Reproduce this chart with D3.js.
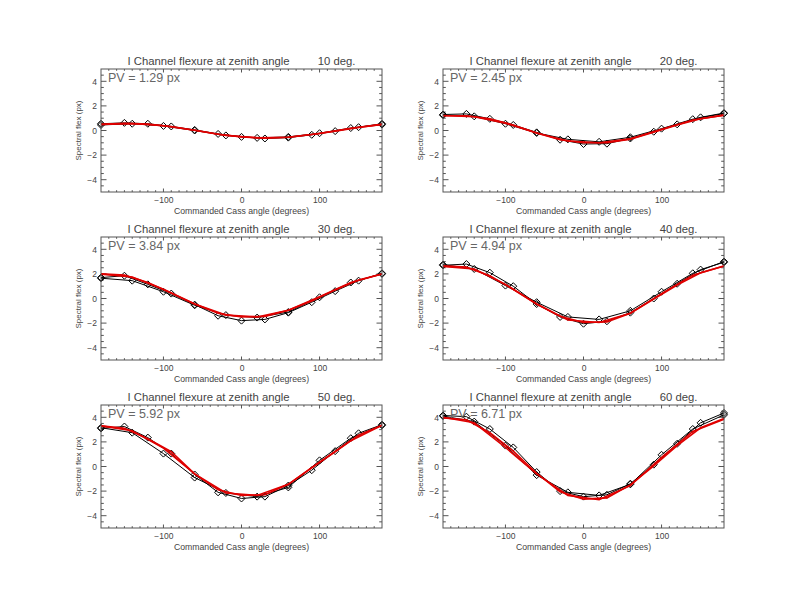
<!DOCTYPE html>
<html>
<head>
<meta charset="utf-8">
<script src="https://cdn.jsdelivr.net/npm/d3@7"></script>
<style>
  body { margin: 0; background: #fff; }
  text { font-family: "Liberation Sans", Arial, sans-serif; }
</style>
</head>
<body>
<div id="chart"></div>
<script>
// six panels of I channel flexure vs Cass angle, one per zenith angle

// cass angles for the two runs
const anglesA = [-180, -150, -120, -90, -60, -30, 0, 30, 60, 90, 120, 150, 180];
const anglesB = [-180, -140, -100, -60, -20, 20, 60, 100, 140, 180];

const zenithAngles = [10, 20, 30, 40, 50, 60];
const pvLabels = ["1.29", "2.45", "3.84", "4.94", "5.92", "6.71"];

const xTicks = [-100, 0, 100];
const yTicks = [-4, -2, 0, 2, 4];

// measured flex (px), run A / run B, per zenith angle
const runA10 = [0.55, 0.62, 0.55, 0.33, 0.05, -0.28, -0.52, -0.65, -0.58, -0.35, -0.05, 0.27, 0.55];
const runB10 = [0.45, 0.55, 0.37, 0.0, -0.4, -0.6, -0.52, -0.22, 0.2, 0.48];
const runA20 = [1.3, 1.35, 0.95, 0.45, -0.15, -0.75, -1.1, -1.07, -0.65, -0.1, 0.5, 1.07, 1.42];
const runB20 = [1.25, 1.15, 0.55, -0.2, -0.72, -0.92, -0.55, 0.15, 0.92, 1.38];
const runA30 = [1.7, 1.85, 1.15, 0.4, -0.5, -1.4, -1.8, -1.7, -1.15, -0.3, 0.6, 1.45, 2.05];
const runB30 = [1.65, 1.45, 0.55, -0.55, -1.35, -1.55, -1.1, 0.1, 1.3, 2.0];
const runA40 = [2.7, 2.8, 2.1, 1.0, -0.45, -1.5, -2.05, -1.85, -1.15, 0.0, 1.2, 2.35, 2.95];
const runB40 = [2.75, 2.4, 1.05, -0.3, -1.5, -1.7, -1.0, 0.55, 2.05, 3.0];
const runA50 = [3.1, 3.25, 2.35, 1.05, -0.65, -2.1, -2.6, -2.45, -1.55, -0.3, 1.25, 2.7, 3.4];
const runB50 = [3.15, 2.75, 1.05, -0.9, -2.15, -2.45, -1.7, 0.5, 2.3, 3.35];
const runA60 = [4.15, 4.05, 3.05, 1.55, -0.45, -2.0, -2.45, -2.3, -1.4, 0.15, 1.85, 3.55, 4.35];
const runB60 = [4.1, 3.65, 1.7, -0.7, -2.1, -2.35, -1.45, 0.95, 3.05, 4.2];

// fitted curves (red), sampled at the same angles
const fitA10 = [0.5, 0.58, 0.52, 0.33, 0.02, -0.3, -0.52, -0.62, -0.55, -0.33, -0.05, 0.25, 0.5];
const fitB10 = [0.5, 0.57, 0.38, 0.02, -0.4, -0.6, -0.55, -0.25, 0.18, 0.5];
const fitA20 = [1.2, 1.2, 0.95, 0.45, -0.2, -0.75, -1.0, -1.0, -0.7, -0.15, 0.45, 0.95, 1.25];
const fitB20 = [1.22, 1.12, 0.6, -0.2, -0.85, -1.0, -0.68, 0.1, 0.85, 1.25];
const fitA30 = [2.0, 1.9, 1.3, 0.45, -0.45, -1.2, -1.5, -1.45, -0.95, -0.2, 0.7, 1.5, 2.0];
const fitB30 = [1.98, 1.75, 0.75, -0.45, -1.35, -1.5, -0.95, 0.15, 1.3, 2.0];
const fitA40 = [2.65, 2.55, 1.85, 0.75, -0.45, -1.45, -1.95, -1.9, -1.2, -0.05, 1.1, 2.1, 2.65];
const fitB40 = [2.6, 2.4, 1.15, -0.45, -1.75, -1.95, -1.2, 0.4, 1.9, 2.65];
const fitA50 = [3.3, 3.1, 2.25, 1.2, -0.6, -1.9, -2.35, -2.3, -1.45, -0.1, 1.2, 2.55, 3.35];
const fitB50 = [3.3, 2.9, 1.5, -0.6, -2.15, -2.35, -1.45, 0.35, 2.1, 3.35];
const fitA60 = [3.95, 3.8, 2.75, 1.25, -0.55, -2.05, -2.65, -2.55, -1.5, 0.05, 1.7, 3.15, 3.9];
const fitB60 = [4.0, 3.55, 1.55, -0.6, -2.35, -2.7, -1.55, 0.75, 2.85, 3.85];

const panels = [
  { runA: runA10, runB: runB10, fitA: fitA10, fitB: fitB10 },
  { runA: runA20, runB: runB20, fitA: fitA20, fitB: fitB20 },
  { runA: runA30, runB: runB30, fitA: fitA30, fitB: fitB30 },
  { runA: runA40, runB: runB40, fitA: fitA40, fitB: fitB40 },
  { runA: runA50, runB: runB50, fitA: fitA50, fitB: fitB50 },
  { runA: runA60, runB: runB60, fitA: fitA60, fitB: fitB60 }
].map((p, i) => ({ ...p, zenith: zenithAngles[i], pv: pvLabels[i] }));

const width = 792, height = 612;
const colLeft = [101, 443];
const rowTop = [69, 237, 405];
const plotW = 281, plotH = 123;
const axisColor = "#555";
const textColor = "#444";

const svg = d3.select("#chart").append("svg")
  .attr("width", width)
  .attr("height", height);

panels.forEach((p, i) => {
  const g = svg.append("g")
    .attr("transform", `translate(${colLeft[i % 2]},${rowTop[Math.floor(i / 2)]})`);
  drawPanel(g, p);
});

function tickText(d) {
  return d3.format("d")(d).replace("-", "\u2212");
}

function drawPanel(g, p) {
  const x = d3.scaleLinear().domain([-180, 180]).range([0, plotW]);
  const y = d3.scaleLinear().domain([-5, 5]).range([plotH, 0]);

  // minor ticks every 10 deg / 0.5 px, IDL style, on all four sides
  const xMinor = d3.range(-170, 180, 10).filter(v => !xTicks.includes(v));
  const yMinor = d3.range(-4.5, 5, 0.5).filter(v => !yTicks.includes(v));

  g.append("g").attr("transform", `translate(0,${plotH})`)
    .call(d3.axisBottom(x).tickValues(xTicks).tickSize(0).tickPadding(5).tickFormat(tickText))
    .call(a => a.select(".domain").remove())
    .selectAll("text")
    .attr("font-size", 8.5)
    .attr("fill", textColor)
    .style("font-family", "Liberation Sans");

  g.append("g")
    .call(d3.axisLeft(y).tickValues(yTicks).tickSize(0).tickPadding(4).tickFormat(tickText))
    .call(a => a.select(".domain").remove())
    .selectAll("text")
    .attr("font-size", 8.5)
    .attr("fill", textColor)
    .style("font-family", "Liberation Sans");

  const ticks = g.append("g").attr("stroke", axisColor).attr("stroke-width", 1);
  const xt = xTicks.map(v => ({ v, len: 3.5 })).concat(xMinor.map(v => ({ v, len: 1.8 })));
  const yt = yTicks.map(v => ({ v, len: 5.5 })).concat(yMinor.map(v => ({ v, len: 2.8 })));

  ticks.selectAll(".xb").data(xt).enter().append("line")
    .attr("x1", d => x(d.v)).attr("x2", d => x(d.v))
    .attr("y1", plotH).attr("y2", d => plotH - d.len);
  ticks.selectAll(".xt").data(xt).enter().append("line")
    .attr("x1", d => x(d.v)).attr("x2", d => x(d.v))
    .attr("y1", 0).attr("y2", d => d.len);
  ticks.selectAll(".yl").data(yt).enter().append("line")
    .attr("y1", d => y(d.v)).attr("y2", d => y(d.v))
    .attr("x1", 0).attr("x2", d => d.len);
  ticks.selectAll(".yr").data(yt).enter().append("line")
    .attr("y1", d => y(d.v)).attr("y2", d => y(d.v))
    .attr("x1", plotW).attr("x2", d => plotW - d.len);

  const line = d3.line().x(d => x(d[0])).y(d => y(d[1]));
  const ptsA = anglesA.map((a, k) => [a, p.runA[k]]);
  const ptsB = anglesB.map((a, k) => [a, p.runB[k]]);

  [ptsA, ptsB].forEach(pts => {
    g.append("path").datum(pts)
      .attr("d", line)
      .attr("fill", "none")
      .attr("stroke", "#000")
      .attr("stroke-width", 1);
    g.selectAll(null).data(pts).enter().append("path")
      .attr("transform", d => `translate(${x(d[0])},${y(d[1])})`)
      .attr("d", "M0,-3.5L3.5,0L0,3.5L-3.5,0Z")
      .attr("fill", "none")
      .attr("stroke", "#000")
      .attr("stroke-width", 1);
  });

  [anglesA.map((a, k) => [a, p.fitA[k]]), anglesB.map((a, k) => [a, p.fitB[k]])].forEach(pts => {
    g.append("path").datum(pts)
      .attr("d", line)
      .attr("fill", "none")
      .attr("stroke", "#e00000")
      .attr("stroke-width", 1.6);
  });

  g.append("rect")
    .attr("width", plotW).attr("height", plotH)
    .attr("fill", "none")
    .attr("stroke", axisColor)
    .attr("stroke-width", 1);

  g.append("text")
    .attr("x", plotW / 2).attr("y", -4)
    .attr("text-anchor", "middle")
    .attr("font-size", 11.3)
    .attr("fill", textColor)
    .style("white-space", "pre")
    .text(`I Channel flexure at zenith angle         ${p.zenith} deg.`);

  g.append("text")
    .attr("x", 7).attr("y", 13)
    .attr("font-size", 12.5)
    .attr("fill", "#666")
    .style("white-space", "pre")
    .text(`PV = ${p.pv} px`);

  g.append("text")
    .attr("x", plotW / 2).attr("y", plotH + 21.5)
    .attr("text-anchor", "middle")
    .attr("font-size", 8.7)
    .attr("fill", textColor)
    .text("Commanded Cass angle (degrees)");

  g.append("text")
    .attr("transform", `translate(-20,${plotH / 2}) rotate(-90)`)
    .attr("text-anchor", "middle")
    .attr("font-size", 8)
    .attr("fill", textColor)
    .text("Spectral flex (px)");
}
</script>
</body>
</html>
